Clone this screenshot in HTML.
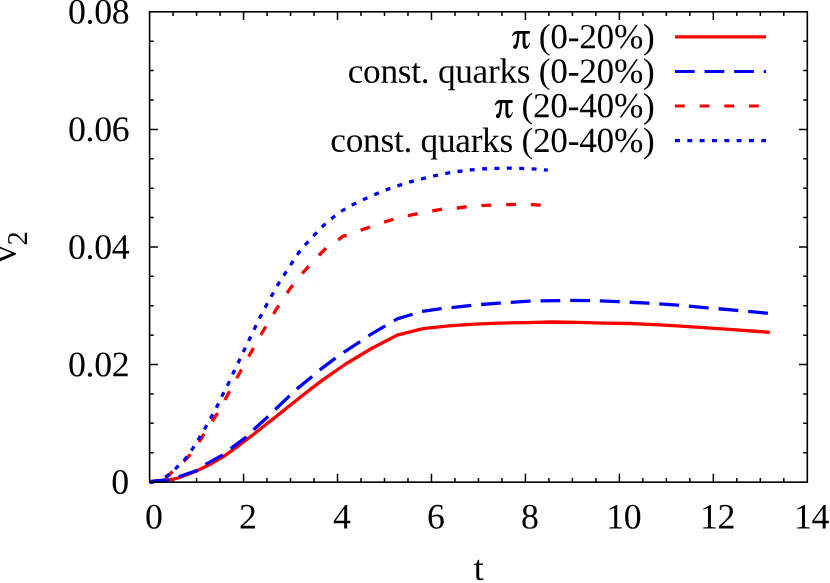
<!DOCTYPE html>
<html><head><meta charset="utf-8"><title>v2 vs t</title>
<style>html,body{margin:0;padding:0;background:#fff;overflow:hidden}svg{display:block}text{font-family:"Liberation Serif",serif;fill:#000;letter-spacing:-0.35px}svg{will-change:transform;transform:translateZ(0)}</style></head><body>
<svg width="830" height="583" viewBox="0 0 830 583">
<rect width="830" height="583" fill="#fff"/>
<path d="M173.09,482.15v-4.1M173.09,11.8v4.1M196.58,482.15v-4.1M196.58,11.8v4.1M220.07,482.15v-4.1M220.07,11.8v4.1M243.56,482.15v-8.3M243.56,11.8v8.3M267.05,482.15v-4.1M267.05,11.8v4.1M290.54,482.15v-4.1M290.54,11.8v4.1M314.02,482.15v-4.1M314.02,11.8v4.1M337.51,482.15v-8.3M337.51,11.8v8.3M361.00,482.15v-4.1M361.00,11.8v4.1M384.49,482.15v-4.1M384.49,11.8v4.1M407.98,482.15v-4.1M407.98,11.8v4.1M431.47,482.15v-8.3M431.47,11.8v8.3M454.96,482.15v-4.1M454.96,11.8v4.1M478.45,482.15v-4.1M478.45,11.8v4.1M501.94,482.15v-4.1M501.94,11.8v4.1M525.43,482.15v-8.3M525.43,11.8v8.3M548.92,482.15v-4.1M548.92,11.8v4.1M572.41,482.15v-4.1M572.41,11.8v4.1M595.90,482.15v-4.1M595.90,11.8v4.1M619.39,482.15v-8.3M619.39,11.8v8.3M642.87,482.15v-4.1M642.87,11.8v4.1M666.36,482.15v-4.1M666.36,11.8v4.1M689.85,482.15v-4.1M689.85,11.8v4.1M713.34,482.15v-8.3M713.34,11.8v8.3M736.83,482.15v-4.1M736.83,11.8v4.1M760.32,482.15v-4.1M760.32,11.8v4.1M783.81,482.15v-4.1M783.81,11.8v4.1M149.6,452.75h4.1M807.3,452.75h-4.1M149.6,423.36h4.1M807.3,423.36h-4.1M149.6,393.96h4.1M807.3,393.96h-4.1M149.6,364.56h8.3M807.3,364.56h-8.3M149.6,335.17h4.1M807.3,335.17h-4.1M149.6,305.77h4.1M807.3,305.77h-4.1M149.6,276.37h4.1M807.3,276.37h-4.1M149.6,246.98h8.3M807.3,246.98h-8.3M149.6,217.58h4.1M807.3,217.58h-4.1M149.6,188.18h4.1M807.3,188.18h-4.1M149.6,158.78h4.1M807.3,158.78h-4.1M149.6,129.39h8.3M807.3,129.39h-8.3M149.6,99.99h4.1M807.3,99.99h-4.1M149.6,70.59h4.1M807.3,70.59h-4.1M149.6,41.20h4.1M807.3,41.20h-4.1" stroke="#000" stroke-width="1.5" fill="none"/>
<path d="M149.6,481.6 L169.7,479.8 L178.2,478.0 L197.5,470.6 L209.9,464.6 L223.8,456.4 L237.7,446.3 L253.1,434.7 L265.0,425.3 L273.8,418.4 L299.6,397.8 L311.0,388.9 L322.8,379.9 L345.7,364.0 L371.5,348.5 L397.2,335.1 L423.0,328.7 L448.7,325.9 L474.4,324.1 L500.2,323.1 L525.7,322.6 L551.5,322.0 L577.2,322.3 L603.0,323.1 L628.7,323.5 L655.0,324.7 L681.0,326.2 L707.2,327.9 L733.0,329.7 L758.7,331.5 L769.8,332.3" stroke="#f00" stroke-width="3.3" fill="none" stroke-linejoin="round"/>
<path d="M149.6,481.6 L169.0,479.6 L178.2,477.0 L197.5,470.3 L206.0,464.1 L223.0,454.8 L230.7,448.6 L246.2,437.1 L253.6,429.7 L266.2,418.2 L275.1,409.5 L289.3,396.1 L297.0,388.9 L311.2,377.3 L320.2,369.6 L335.6,358.0 L343.7,352.4 L358.6,342.6 L367.6,336.4 L381.8,327.9 L397.2,318.9 L410.1,315.0 L421.7,311.5 L439.7,308.9 L451.3,307.6 L469.3,305.6 L480.9,304.5 L498.9,303.2 L510.4,302.4 L529.6,301.2 L539.9,300.9 L559.2,300.7 L569.5,300.4 L588.8,300.6 L599.1,300.9 L618.4,301.7 L628.7,302.2 L648.0,303.2 L658.0,303.7 L677.6,305.1 L687.5,306.0 L707.2,307.8 L717.0,308.6 L736.8,310.4 L746.3,311.2 L766.4,313.2 L769.8,313.6" stroke="#00f" stroke-width="3.3" fill="none" stroke-dasharray="19.82 9.91" stroke-dashoffset="0" stroke-linejoin="round"/>
<path d="M149.6,481.9 L162.0,480.5 L168.2,475.7 L173.6,470.7 L184.4,461.0 L190.6,454.1 L199.8,440.9 L204.5,433.2 L213.0,420.1 L217.6,413.1 L227.5,395.3 L239.2,373.7 L251.3,351.9 L263.4,330.5 L276.2,309.5 L289.9,288.8 L303.0,272.6 L309.4,265.4 L319.7,254.5 L326.1,248.1 L337.9,240.1 L343.2,236.2 L348.0,235.0 L360.9,230.1 L369.9,227.0 L384.8,221.9 L394.3,219.0 L408.3,215.7 L418.1,213.6 L432.8,210.8 L442.3,209.0 L457.2,208.0 L467.0,206.7 L481.7,205.6 L491.2,205.1 L506.1,204.6 L515.9,204.4 L530.6,204.6 L540.9,205.1" stroke="#f00" stroke-width="3.3" fill="none" stroke-dasharray="9.9 14.85" stroke-dashoffset="8.2" stroke-linejoin="round"/>
<path d="M149.6,481.9 L160.0,480.8 L167.4,475.7 L176.7,467.5 L185.5,458.7 L192.6,448.6 L199.4,437.8 L205.5,427.5 L211.7,416.3 L217.5,405.5 L222.8,394.4 L228.4,383.6 L233.6,372.2 L238.9,361.2 L244.2,350.1 L249.5,339.0 L254.9,327.9 L260.3,316.8 L266.1,305.8 L272.2,294.7 L278.3,283.9 L285.0,273.6 L291.4,263.6 L298.3,253.3 L306.0,244.0 L314.5,234.8 L323.0,226.0 L332.6,217.8 L342.3,210.6 L353.2,204.4 L364.7,199.0 L375.8,194.1 L387.0,189.5 L398.4,185.6 L410.4,181.8 L422.5,178.7 L434.0,175.9 L446.4,173.3 L458.5,171.5 L470.6,169.9 L483.0,168.9 L495.3,168.4 L507.9,168.1 L520.3,168.4 L532.6,168.9 L544.7,169.9 L547.8,170.2" stroke="#00f" stroke-width="3.3" fill="none" stroke-dasharray="4.95 7.43" stroke-dashoffset="-4.8" stroke-linejoin="round"/>
<path d="M149.8,482.7L153.6,482.2" stroke="#00f" stroke-width="3.3" fill="none"/>
<rect x="149.6" y="11.8" width="657.70" height="470.35" fill="none" stroke="#000" stroke-width="1.6"/>
<path d="M675,36.9H766" stroke="#f00" stroke-width="3.2" fill="none"/>
<text x="654.5" y="48.2" transform="rotate(0.03 654.5 48.2)" font-size="35.3" text-anchor="end" style="letter-spacing:-0.28px">(0-20%)</text>
<path d="M675,71.5H766" stroke="#00f" stroke-width="3.2" fill="none" stroke-dasharray="19.72 9.86"/>
<text x="654.5" y="82.8" transform="rotate(0.03 654.5 82.8)" font-size="35.3" text-anchor="end" style="letter-spacing:-0.28px">const. quarks (0-20%)</text>
<path d="M675,106.0H766" stroke="#f00" stroke-width="3.2" fill="none" stroke-dasharray="9.86 14.79"/>
<text x="654.5" y="117.4" transform="rotate(0.03 654.5 117.4)" font-size="35.3" text-anchor="end" style="letter-spacing:-0.28px">(20-40%)</text>
<path d="M675,140.7H766" stroke="#00f" stroke-width="3.2" fill="none" stroke-dasharray="4.93 7.4"/>
<text x="654.5" y="152.0" transform="rotate(0.03 654.5 152.0)" font-size="35.3" text-anchor="end" style="letter-spacing:-0.28px">const. quarks (20-40%)</text>
<path d="M143,288C160,225 200,185 255,185L515,185L515,245L425,245L425,430C425,480 440,500 460,500C480,500 495,470 505,432L520,440C505,510 470,558 430,558C385,558 365,520 365,450L365,245L300,245C295,330 285,420 268,480C260,530 240,560 212,560C185,560 168,540 168,515C168,490 190,468 215,465C235,440 245,330 255,245C210,245 180,265 157,297Z" transform="translate(505,22) scale(0.04819)" fill="#000"/>
<path d="M143,288C160,225 200,185 255,185L515,185L515,245L425,245L425,430C425,480 440,500 460,500C480,500 495,470 505,432L520,440C505,510 470,558 430,558C385,558 365,520 365,450L365,245L300,245C295,330 285,420 268,480C260,530 240,560 212,560C185,560 168,540 168,515C168,490 190,468 215,465C235,440 245,330 255,245C210,245 180,265 157,297Z" transform="translate(487.8,91.2) scale(0.04819)" fill="#000"/>
<text x="128.8" y="493.85" transform="rotate(0.03 129.3 493.85)" font-size="35.8" text-anchor="end">0</text>
<text x="129.3" y="376.26" transform="rotate(0.03 129.3 376.26)" font-size="35.8" text-anchor="end">0.02</text>
<text x="129.3" y="258.68" transform="rotate(0.03 129.3 258.68)" font-size="35.8" text-anchor="end">0.04</text>
<text x="129.3" y="141.09" transform="rotate(0.03 129.3 141.09)" font-size="35.8" text-anchor="end">0.06</text>
<text x="129.3" y="23.50" transform="rotate(0.03 129.3 23.50)" font-size="35.8" text-anchor="end">0.08</text>
<text x="153.9" y="528.55" transform="rotate(0.03 153.9 528.55)" font-size="35.8" text-anchor="middle">0</text>
<text x="247.9" y="528.55" transform="rotate(0.03 247.9 528.55)" font-size="35.8" text-anchor="middle">2</text>
<text x="341.8" y="528.55" transform="rotate(0.03 341.8 528.55)" font-size="35.8" text-anchor="middle">4</text>
<text x="435.8" y="528.55" transform="rotate(0.03 435.8 528.55)" font-size="35.8" text-anchor="middle">6</text>
<text x="529.7" y="528.55" transform="rotate(0.03 529.7 528.55)" font-size="35.8" text-anchor="middle">8</text>
<text x="623.7" y="528.55" transform="rotate(0.03 623.7 528.55)" font-size="35.8" text-anchor="middle">10</text>
<text x="717.6" y="528.55" transform="rotate(0.03 717.6 528.55)" font-size="35.8" text-anchor="middle">12</text>
<text x="811.6" y="528.55" transform="rotate(0.03 811.6 528.55)" font-size="35.8" text-anchor="middle">14</text>
<text x="478.5" y="579.9" transform="rotate(0.03 478.5 579.9)" font-size="35.8" text-anchor="middle">t</text>
<text transform="translate(16.2,247.2) rotate(-90)" font-size="35.8" text-anchor="middle">v<tspan font-size="28.64" dy="10.6">2</tspan></text>
</svg></body></html>
